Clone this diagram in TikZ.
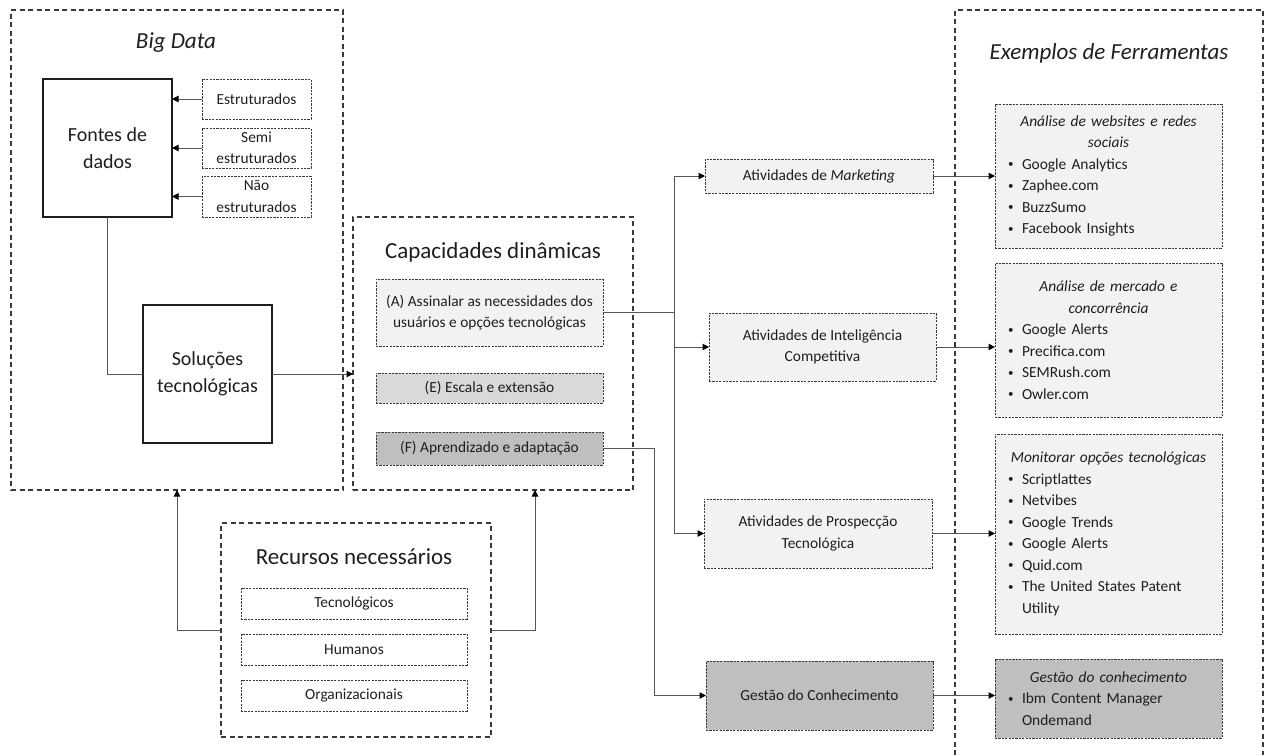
\documentclass[tikz,border=0pt]{standalone}
\usepackage{fontspec}
\setmainfont{Carlito}
\usetikzlibrary{arrows.meta}

\definecolor{txt}{HTML}{1E1E1E}
\definecolor{edgecol}{HTML}{3A3A3A}
\definecolor{wirecol}{HTML}{555555}
\definecolor{fillA}{HTML}{F2F2F2}
\definecolor{fillE}{HTML}{D9D9D9}
\definecolor{fillF}{HTML}{BFBFBF}

% lines inside the tool boxes
\newcommand\toolhead[1]{{\centering\itshape #1\par}}
\newcommand\toolbullet{\raisebox{1.5pt}{\fontsize{11}{11}\selectfont •}}
\newcommand\toolitem[1]{\par\noindent\hspace*{13pt}\makebox[14pt][l]{\toolbullet}#1\par}
\newcommand\toolcont[1]{\par\noindent\hspace*{27pt}#1\par}

\begin{document}
\begin{tikzpicture}[x=1pt,y=-1pt,
  every node/.style={text=txt, inner sep=0pt, outer sep=0pt},
  smallfont/.style={font=\fontsize{15.4}{21.5}\selectfont},
  midfont/.style={font=\fontsize{20}{27}\selectfont},
  bigfont/.style={font=\fontsize{23}{28}\selectfont},
  grpbox/.style={draw=edgecol, line width=1.2pt, dash pattern=on 5pt off 3.5pt},
  solidbox/.style={draw=txt, line width=1.5pt, midfont, align=center, minimum width=129, minimum height=138},
  finedash/.style={draw=edgecol, line width=1pt, dash pattern=on 2.2pt off 1.2pt},
  tagbox/.style={finedash, smallfont, align=center},
  toolbox/.style={finedash, smallfont, text width=227pt, minimum width=227,
    execute at begin node=\raggedright},
  wire/.style={draw=wirecol, line width=1pt},
  arr/.style={wire, -{Triangle[length=6.5pt,width=6.5pt,color=black]}},
]
\useasboundingbox (0,0) rectangle (1269,755);

% ---------- groups ----------
\node[grpbox, minimum width=332, minimum height=480] (bigdata) at (177,250) {};
\node[bigfont] (bdtitle) at (176,43) {\textit{Big Data}};

\node[grpbox, minimum width=280, minimum height=273] (cap) at (493,353.5) {};
\node[bigfont] (captitle) at (493,252) {Capacidades dinâmicas};

\node[grpbox, minimum width=270, minimum height=214] (rec) at (356,630) {};
\node[bigfont] (rectitle) at (354,557) {Recursos necessários};

\draw[grpbox] (955,755) -- (955,10) -- (1263,10) -- (1263,755);
\node[bigfont] (extitle) at (1109,53) {\textit{Exemplos de Ferramentas}};

% ---------- Big Data ----------
\node[solidbox] (fontes) at (107.5,148) {Fontes de\\dados};
\node[solidbox] (sol) at (207.5,374) {Soluções\\tecnológicas};
\node[tagbox, minimum width=109, minimum height=40] (est) at (256.5,99) {Estruturados};
\node[tagbox, minimum width=109, minimum height=40] (semi) at (256.5,148) {Semi\\estruturados};
\node[tagbox, minimum width=109, minimum height=41] (nao) at (256.5,196.5) {Não\\estruturados};

% ---------- Capacidades dinâmicas ----------
\node[tagbox, fill=fillA, minimum width=227, minimum height=67] (capA) at (489.5,312.5)
  {(A) Assinalar as necessidades dos\\usuários e opções tecnológicas};
\node[tagbox, fill=fillE, minimum width=227, minimum height=30] (capE) at (489.5,388)
  {(E) Escala e extensão};
\node[tagbox, fill=fillF, minimum width=227, minimum height=33] (capF) at (489.5,448.5)
  {(F) Aprendizado e adaptação};

% ---------- Recursos ----------
\node[tagbox, minimum width=226, minimum height=31] (tec) at (354,603.5) {Tecnológicos};
\node[tagbox, minimum width=226, minimum height=31] (hum) at (354,649.5) {Humanos};
\node[tagbox, minimum width=226, minimum height=31] (org) at (354,695.5) {Organizacionais};

% ---------- activities ----------
\node[tagbox, fill=fillA, minimum width=228, minimum height=34] (mkt) at (819,176)
  {Atividades de \textit{Marketing}};
\node[tagbox, fill=fillA, minimum width=227, minimum height=68] (intel) at (822.5,347)
  {Atividades de Inteligência\\Competitiva};
\node[tagbox, fill=fillA, minimum width=228, minimum height=69] (prosp) at (818,533.5)
  {Atividades de Prospecção\\Tecnológica};
\node[tagbox, fill=fillF, minimum width=227, minimum height=69] (gest) at (819.5,695.5)
  {Gestão do Conhecimento};

% ---------- tools ----------
\node[toolbox, fill=fillA, minimum height=144] (tool1) at (1108.5,176) {%
  \toolhead{Análise de websites e redes\\sociais}%
  \toolitem{Google Analytics}%
  \toolitem{Zaphee.com}%
  \toolitem{BuzzSumo}%
  \toolitem{Facebook Insights}};
\node[toolbox, fill=fillA, minimum height=154] (tool2) at (1108.5,340) {%
  \toolhead{Análise de mercado e\\concorrência}%
  \toolitem{Google Alerts}%
  \toolitem{Precifica.com}%
  \toolitem{SEMRush.com}%
  \toolitem{Owler.com}};
\node[toolbox, fill=fillA, minimum height=200] (tool3) at (1108.5,534) {%
  \toolhead{Monitorar opções tecnológicas}%
  \toolitem{Scriptlattes}%
  \toolitem{Netvibes}%
  \toolitem{Google Trends}%
  \toolitem{Google Alerts}%
  \toolitem{Quid.com}%
  \toolitem{The United States Patent}%
  \toolcont{Utility}};
\node[toolbox, fill=fillF, minimum height=79] (tool4) at (1108.5,698.5) {%
  \toolhead{Gestão do conhecimento}%
  \toolitem{Ibm Content Manager}%
  \toolcont{Ondemand}};

% ---------- connectors ----------
\draw[arr] (est.west) -- (est.west -| fontes.east);
\draw[arr] (semi.west) -- (semi.west -| fontes.east);
\draw[arr] (nao.west) -- (nao.west -| fontes.east);
\draw[wire] (fontes.south) |- (sol.west);
\draw[arr] (sol.east) -- (sol.east -| cap.west);

\coordinate (ja) at (674,312.5);
\draw[wire] (capA.east) -- (ja);
\draw[arr] (ja) |- (mkt.west);
\draw[arr] (ja) |- (intel.west);
\draw[arr] (ja) |- (prosp.west);

\coordinate (jf) at (654,448.5);
\draw[arr] (capF.east) -- (jf) |- (gest.west);

\draw[arr] (mkt.east) -- (mkt.east -| tool1.west);
\draw[arr] (intel.east) -- (intel.east -| tool2.west);
\draw[arr] (prosp.east) -- (prosp.east -| tool3.west);
\draw[arr] (gest.east) -- (gest.east -| tool4.west);

\draw[arr] (rec.west) -| (bigdata.south);
\draw[arr] (rec.east) -| ([xshift=42pt]cap.south);
\end{tikzpicture}
\end{document}
